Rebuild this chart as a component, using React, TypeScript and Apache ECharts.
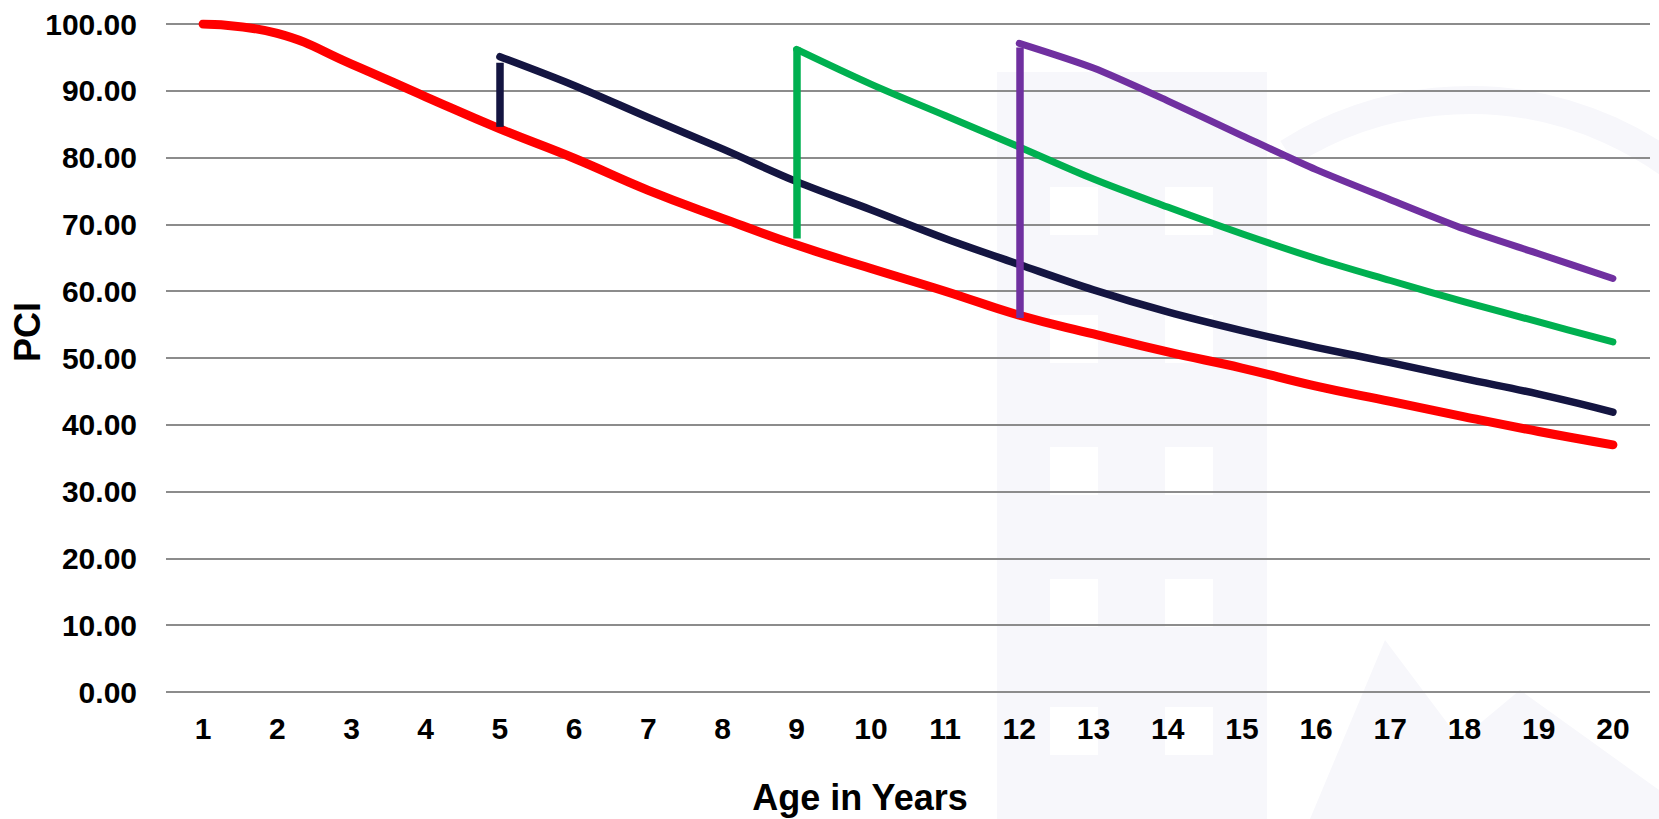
import React, { useEffect, useRef } from "react";
import * as echarts from "echarts";

const ages = ["1","2","3","4","5","6","7","8","9","10","11","12","13","14","15","16","17","18","19","20"];
const yTicks = [0, 10, 20, 30, 40, 50, 60, 70, 80, 90, 100];

const redValues = [100.0, 98.6, 94.0, 89.1, 84.3, 79.9, 75.1, 70.9, 66.9, 63.4, 60.0, 56.4, 53.6, 50.9, 48.5, 45.8, 43.5, 41.2, 39.0, 37.0];
const navyValues = [null, null, null, null, 95.1, 90.8, 86.0, 81.3, 76.4, 72.2, 67.9, 64.0, 60.2, 56.9, 54.1, 51.6, 49.3, 46.9, 44.6, 41.9];
const greenValues = [null, null, null, null, null, null, null, null, 96.2, 91.0, 86.3, 81.6, 76.8, 72.6, 68.6, 64.9, 61.6, 58.4, 55.4, 52.4];
const purpleValues = [null, null, null, null, null, null, null, null, null, null, null, 97.1, 93.4, 88.5, 83.3, 78.2, 73.7, 69.3, 65.6, 61.9];

const jumpAges = ["5", "9", "12"];
const jumpLow = [84.6, 67.9, 56.0];
const jumpHigh = [94.2, 96.5, 96.5];

const COLORS = { red: "#ff0000", navy: "#141541", green: "#00b050", purple: "#7030a0" };
const FONT = "'Liberation Sans', Arial, sans-serif";

function jumpLine(i: number, color: string) {
  return {
    silent: true,
    symbol: ["none", "none"],
    label: { show: false },
    lineStyle: { color, width: 7.5, type: "solid", cap: "butt" },
    emphasis: { disabled: true },
    data: [[{ coord: [jumpAges[i], jumpLow[i]] }, { coord: [jumpAges[i], jumpHigh[i]] }]],
  };
}

function lineSeries(name: string, data: (number | null)[], color: string, width: number, smooth: number, markLine?: any) {
  return {
    name,
    type: "line",
    data,
    smooth,
    showSymbol: false,
    symbol: "none",
    connectNulls: false,
    lineStyle: { color, width, cap: "round", join: "round" },
    itemStyle: { color },
    z: 3,
    markLine,
  };
}

const WM = "#f7f7fb";

export default function App() {
  const ref = useRef<HTMLDivElement>(null);
  useEffect(() => {
    if (!ref.current) return;
    const chart = echarts.init(ref.current, null, { renderer: "svg" });
    const windowsX = [1050, 1165];
    const windowsY = [187, 315, 447, 579, 707];
    const windows: any[] = [];
    windowsX.forEach((wx) =>
      windowsY.forEach((wy) =>
        windows.push({ type: "rect", silent: true, z: -10, shape: { x: wx, y: wy, width: 48, height: 48 }, style: { fill: "#ffffff" } })
      )
    );
    chart.setOption({
      animation: false,
      backgroundColor: "#ffffff",
      grid: { left: 166, right: 9, top: 24, bottom: 127, containLabel: false },
      graphic: [
        { type: "rect", silent: true, z: -11, shape: { x: 997, y: 72, width: 270, height: 747 }, style: { fill: WM } },
        ...windows,
        { type: "polygon", silent: true, z: -11, shape: { points: [[1310, 819], [1385, 640], [1460, 740], [1520, 690], [1659, 790], [1659, 819]] }, style: { fill: WM } },
        { type: "arc", silent: true, z: -11, shape: { cx: 1470, cy: 440, r: 340, startAngle: -Math.PI * 0.68, endAngle: -Math.PI * 0.05 }, style: { stroke: WM, lineWidth: 28, fill: "none" } },
        {
          type: "text", x: 27, y: 332, rotation: Math.PI / 2,
          style: { text: "PCI", font: `bold 36px ${FONT}`, fill: "#000", textAlign: "center", textVerticalAlign: "middle" },
        },
        {
          type: "text", x: 860, y: 797,
          style: { text: "Age in Years", font: `bold 36px ${FONT}`, fill: "#000", textAlign: "center", textVerticalAlign: "middle" },
        },
      ],
      xAxis: {
        type: "category",
        data: ages,
        boundaryGap: true,
        axisLine: { show: false },
        axisTick: { show: false },
        axisLabel: { fontSize: 30, fontWeight: "bold", color: "#000", fontFamily: FONT, margin: 21, interval: 0 },
        splitLine: { show: false },
      },
      yAxis: {
        type: "value",
        min: yTicks[0],
        max: yTicks[yTicks.length - 1],
        interval: 10,
        axisLine: { show: false },
        axisTick: { show: false },
        axisLabel: {
          fontSize: 30, fontWeight: "bold", color: "#000", fontFamily: FONT, margin: 29,
          formatter: (v: number) => v.toFixed(2),
        },
        splitLine: { show: true, lineStyle: { color: "#8c8c8c", width: 2 } },
      },
      series: [
        lineSeries("Do nothing", redValues, COLORS.red, 9, 0.45),
        lineSeries("Treatment 1", navyValues, COLORS.navy, 7.5, 0.35, jumpLine(0, COLORS.navy)),
        lineSeries("Treatment 2", greenValues, COLORS.green, 7, 0.35, jumpLine(1, COLORS.green)),
        lineSeries("Treatment 3", purpleValues, COLORS.purple, 7, 0.25, jumpLine(2, COLORS.purple)),
      ],
    });
    return () => chart.dispose();
  }, []);
  return <div ref={ref} style={{ position: "fixed", left: 0, top: 0, width: 1659, height: 819 }} />;
}
